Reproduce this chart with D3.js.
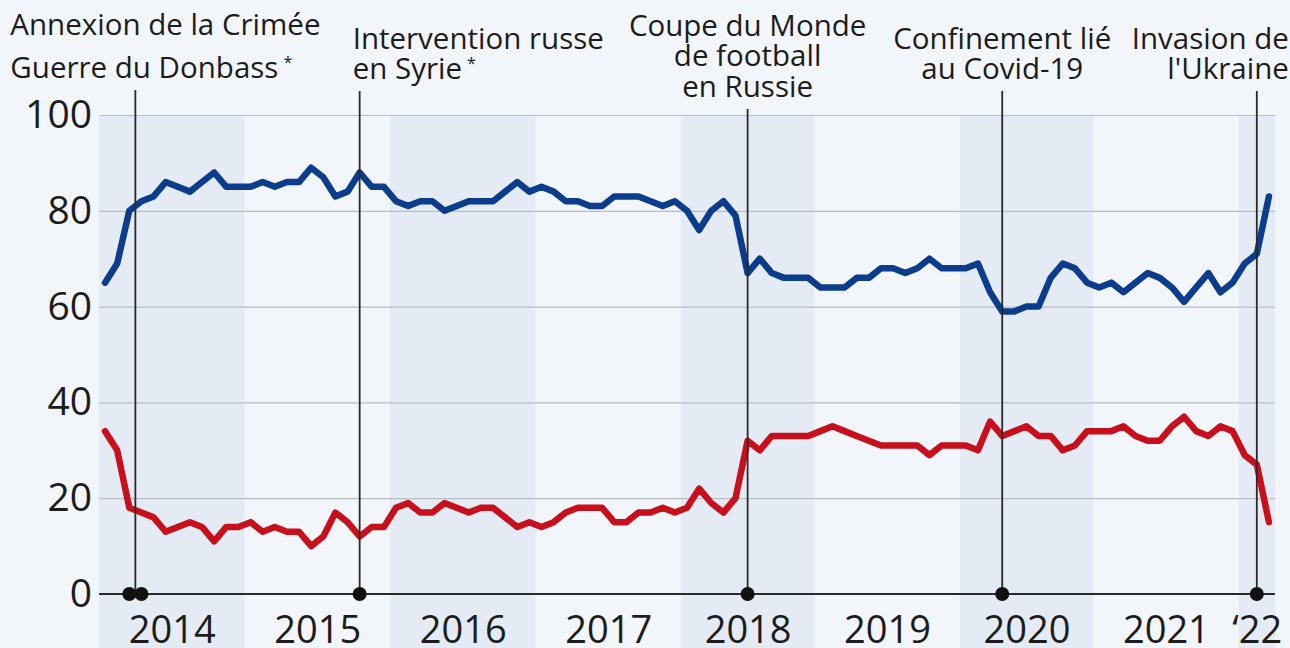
<!DOCTYPE html>
<html>
<head>
<meta charset="utf-8">
<script src="https://cdn.jsdelivr.net/npm/d3@7/dist/d3.min.js"></script>
<style>
  html, body { margin: 0; padding: 0; background: #f2f5f9; }
  svg { display: block; font-family: "Open Sans", "Noto Sans", sans-serif; }
</style>
</head>
<body>
<svg id="chart" width="1290" height="648"></svg>
<script>
// Approval of Putin (Levada), monthly survey points
const months = [
  '2014-01','2014-02','2014-03','2014-04','2014-05','2014-06','2014-07','2014-08','2014-09','2014-10','2014-11','2014-12',
  '2015-01','2015-02','2015-03','2015-04','2015-05','2015-06','2015-07','2015-08','2015-09','2015-10','2015-11','2015-12',
  '2016-01','2016-02','2016-03','2016-04','2016-05','2016-06','2016-07','2016-08','2016-09','2016-10','2016-11','2016-12',
  '2017-01','2017-02','2017-03','2017-04','2017-05','2017-06','2017-07','2017-08','2017-09','2017-10','2017-11','2017-12',
  '2018-02','2018-03','2018-04','2018-05','2018-06','2018-07','2018-08','2018-09','2018-10','2018-11','2018-12',
  '2019-01','2019-02','2019-03','2019-04','2019-05','2019-06','2019-07','2019-08','2019-09','2019-10','2019-11','2019-12',
  '2020-01','2020-02','2020-03','2020-04','2020-05','2020-06','2020-07','2020-08','2020-09','2020-10','2020-11',
  '2021-01','2021-02','2021-03','2021-04','2021-05','2021-06','2021-07','2021-08','2021-09','2021-10','2021-11','2021-12',
  '2022-01','2022-02','2022-03'
];

const approve = [
  65, 69, 80, 82, 83, 86, 85, 84, 86, 88, 85, 85,
  85, 86, 85, 86, 86, 89, 87, 83, 84, 88, 85, 85,
  82, 81, 82, 82, 80, 81, 82, 82, 82, 84, 86, 84,
  85, 84, 82, 82, 81, 81, 83, 83, 83, 82, 81, 82,
  80, 76, 80, 82, 79, 67, 70, 67, 66, 66, 66,
  64, 64, 64, 66, 66, 68, 68, 67, 68, 70, 68, 68,
  68, 69, 63, 59, 59, 60, 60, 66, 69, 68, 65,
  64, 65, 63, 65, 67, 66, 64, 61, 64, 67, 63, 65,
  69, 71, 83
];

const disapprove = [
  34, 30, 18, 17, 16, 13, 14, 15, 14, 11, 14, 14,
  15, 13, 14, 13, 13, 10, 12, 17, 15, 12, 14, 14,
  18, 19, 17, 17, 19, 18, 17, 18, 18, 16, 14, 15,
  14, 15, 17, 18, 18, 18, 15, 15, 17, 17, 18, 17,
  18, 22, 19, 17, 20, 32, 30, 33, 33, 33, 33,
  34, 35, 34, 33, 32, 31, 31, 31, 31, 29, 31, 31,
  31, 30, 36, 33, 34, 35, 33, 33, 30, 31, 34,
  34, 34, 35, 33, 32, 32, 35, 37, 34, 33, 35, 34,
  29, 27, 15
];

const yTicks = [0, 20, 40, 60, 80, 100];
const years = ['2014', '2015', '2016', '2017', '2018', '2019', '2020', '2021', '2022'];
const yearLabels = ['2014', '2015', '2016', '2017', '2018', '2019', '2020', '2021', '\u201822'];

const events = [
  { months: ['2014-03', '2014-04'], lines: ['Annexion de la Crimée', 'Guerre du Donbass'], star: 1 },
  { months: ['2015-10'], lines: ['Intervention russe', 'en Syrie'], star: 1 },
  { months: ['2018-07'], lines: ['Coupe du Monde', 'de football', 'en Russie'] },
  { months: ['2020-04'], lines: ['Confinement lié', 'au Covid-19'] },
  { months: ['2022-02'], lines: ['Invasion de', "l'Ukraine"] }
];

// layout of the event captions (anchor, x offset from the event line, baselines)
const captionLayout = [
  { anchor: 'start', dx: -125, baselines: [35, 78] },
  { anchor: 'start', dx: -7, baselines: [49, 79] },
  { anchor: 'middle', dx: 0, baselines: [36, 66, 97] },
  { anchor: 'middle', dx: 0, baselines: [49, 79] },
  { anchor: 'end', dx: 32, baselines: [49, 79] }
];

const svg = d3.select('#chart');
const plotLeft = 99, plotRight = 1275, plotTop = 115, plotBottom = 594;

const x = d3.scalePoint().domain(months).range([plotLeft, plotRight]).padding(0.5);
const step = x.step();
const y = d3.scaleLinear().domain([0, 100]).range([plotBottom, plotTop]);

// year bands
const byYear = years.map(yr => months.filter(m => m.startsWith(yr)));
const bands = byYear.map((ms, i) => ({
  year: years[i],
  x0: x(ms[0]) - step / 2,
  x1: x(ms[ms.length - 1]) + step / 2
}));

svg.append('g').selectAll('rect')
  .data(bands.filter((d, i) => i % 2 === 0))
  .join('rect')
  .attr('x', d => d.x0)
  .attr('width', d => d.x1 - d.x0)
  .attr('y', plotTop)
  .attr('height', 648 - plotTop)
  .attr('fill', '#e4ebf4');

// grid + y labels
const yAxis = d3.axisLeft(y).tickValues(yTicks).tickSize(-(plotRight - plotLeft)).tickPadding(7);
const gy = svg.append('g').attr('transform', `translate(${plotLeft},0)`).call(yAxis);
gy.select('.domain').remove();
gy.selectAll('.tick line').attr('stroke', '#b9bec5').attr('stroke-width', 1.2);
gy.selectAll('.tick text')
  .attr('fill', '#1c1c1c')
  .attr('font-size', 39)
  .attr('font-family', '"Open Sans", sans-serif');

// x labels at band centres
const xYear = d3.scaleOrdinal().domain(years).range(bands.map(b => (b.x0 + b.x1) / 2));
const gx = svg.append('g').attr('transform', `translate(0,${plotBottom})`)
  .call(d3.axisBottom(xYear).tickSize(0).tickPadding(22).tickFormat((d, i) => yearLabels[i]));
gx.select('.domain').remove();
gx.selectAll('.tick text')
  .attr('fill', '#1c1c1c')
  .attr('font-size', 38)
  .attr('font-family', '"Open Sans", sans-serif');

// series
const line = d3.line().x(d => x(d.m)).y(d => y(d.v));
const series = [
  { values: approve, color: '#0c3c8c' },
  { values: disapprove, color: '#c8101c' }
];
svg.append('g').selectAll('path')
  .data(series)
  .join('path')
  .attr('d', s => line(months.map((m, i) => ({ m, v: s.values[i] }))))
  .attr('fill', 'none')
  .attr('stroke', s => s.color)
  .attr('stroke-width', 6.5)
  .attr('stroke-linejoin', 'round')
  .attr('stroke-linecap', 'round');

// baseline
svg.append('line')
  .attr('x1', plotLeft).attr('x2', plotRight)
  .attr('y1', y(0)).attr('y2', y(0))
  .attr('stroke', '#2a2a2a').attr('stroke-width', 2);

// events
const ev = svg.append('g');
events.forEach((e, i) => {
  const lay = captionLayout[i];
  const lx = d3.mean(e.months, m => x(m));
  const last = lay.baselines[lay.baselines.length - 1];
  ev.append('line')
    .attr('x1', lx).attr('x2', lx)
    .attr('y1', last + 12).attr('y2', y(0))
    .attr('stroke', '#2a2a2a').attr('stroke-width', 1.8);
  e.months.forEach(m => {
    ev.append('circle').attr('cx', x(m)).attr('cy', y(0)).attr('r', 7).attr('fill', '#111');
  });
  e.lines.forEach((t, j) => {
    const txt = ev.append('text')
      .attr('x', lx + lay.dx)
      .attr('y', lay.baselines[j])
      .attr('text-anchor', lay.anchor)
      .attr('font-size', 29.5)
      .attr('fill', '#1c1c1c')
      .text(t);
    if (e.star && j === e.lines.length - 1) {
      txt.append('tspan').attr('font-size', 16).attr('dx', 5).attr('dy', -10).text('*');
    }
  });
});
</script>
</body>
</html>
